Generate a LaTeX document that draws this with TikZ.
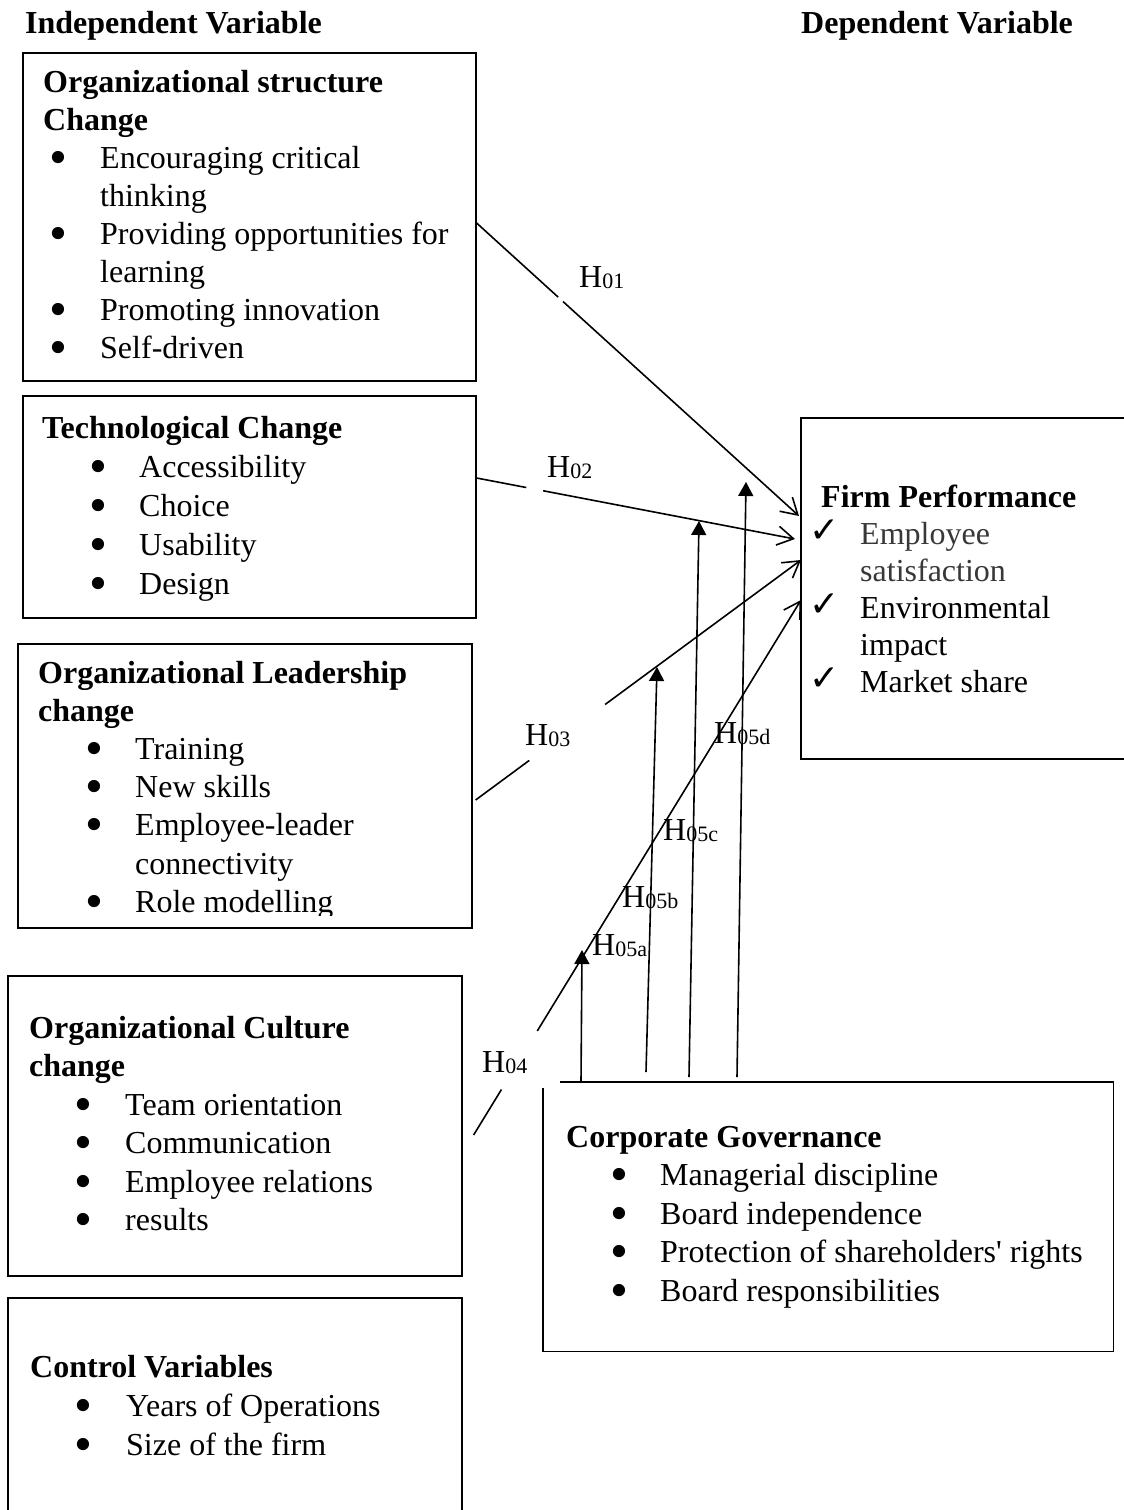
\documentclass[tikz,border=0pt]{standalone}
\usepackage{graphicx}
\usepackage{fontspec}
\setmainfont{Liberation Serif}
\newfontfamily\checkfont{DejaVu Sans}
\usetikzlibrary{arrows.meta,calc}

\newcommand{\bigbul}{\raisebox{-6pt}{\smash{\scalebox{1.6}{\textbullet}}}}
\newcommand{\bulitem}[3]{\makebox[0pt][l]{\hspace*{#1pt}\makebox[0pt]{\bigbul}}\hspace*{#2pt}#3}
\newcommand{\contline}[2]{\hspace*{#1pt}#2}
\newcommand{\chkitem}[3]{\makebox[0pt][l]{\hspace*{#1pt}\makebox[0pt]{\raisebox{1.5pt}{\smash{\checkfont\fontsize{36}{36}\selectfont ✓}}}}\hspace*{#2pt}#3}
\newcommand{\hyplab}[1]{H\raisebox{-1.5pt}{\fontsize{22}{22}\selectfont #1}}

\tikzset{
  box/.style={draw, line width=1.6pt, rectangle, anchor=north west, inner sep=0pt},
  txt/.style={anchor=base west, inner sep=0pt, font=\fontsize{32}{#1}\selectfont},
  hlab/.style={anchor=base west, inner sep=0pt, font=\fontsize{32}{32}\selectfont},
  conn/.style={line width=1.6pt},
  openarr/.style={conn, -{Straight Barb[length=16pt,width=19pt]}},
  modarr/.style={conn, -{Triangle[length=14pt,width=15pt]}}
}

\begin{document}
\begin{tikzpicture}[x=1pt,y=-1pt]
\path[fill=white,use as bounding box] (0,0) rectangle (1124,1510);

% headers
\node[txt=38,font=\fontsize{32}{38}\selectfont\bfseries] (hd1) at (25,33) {Independent Variable};
\node[txt=38,font=\fontsize{32}{38}\selectfont\bfseries] (hd2) at (801,33) {Dependent Variable};

% boxes
\node[box, minimum width=453pt, minimum height=328pt] (b1) at (22,52) {};
\node[box, minimum width=453pt, minimum height=222pt] (b2) at (22,395) {};
\node[box, minimum width=454pt, minimum height=284pt] (b3) at (17,643) {};
\node[box, minimum width=454pt, minimum height=300pt] (b4) at (7,975) {};
\node[box, minimum width=454pt, minimum height=240pt] (b5) at (7,1297) {};
\node[box, minimum width=340pt, minimum height=341pt] (fp) at (800,417) {};
\node[box, draw=none, minimum width=569pt, minimum height=268pt] (cg) at (543,1082) {};
\draw[line width=1.6pt] ($(cg.north west)+(17,0)$) -- (cg.north east) -- (cg.south east)
  -- (cg.south west) -- ($(cg.north west)+(0,6)$);

% box texts
\node[txt=38] (t1) at (43,92) {\begin{tabular}[t]{@{}l@{}}
\textbf{Organizational structure}\\
\textbf{Change}\\
\bulitem{15}{57}{Encouraging critical}\\
\contline{57}{thinking}\\
\bulitem{15}{57}{Providing opportunities for}\\
\contline{57}{learning}\\
\bulitem{15}{57}{Promoting innovation}\\
\bulitem{15}{57}{Self-driven}
\end{tabular}};

\node[txt=39] (t2) at (42,438) {\begin{tabular}[t]{@{}l@{}}
\textbf{Technological Change}\\
\bulitem{56}{97}{Accessibility}\\
\bulitem{56}{97}{Choice}\\
\bulitem{56}{97}{Usability}\\
\bulitem{56}{97}{Design}
\end{tabular}};

\begin{scope}
\clip (0,0) rectangle (1124,915);
\node[txt=38.2] (t3) at (38,683) {\begin{tabular}[t]{@{}l@{}}
\textbf{Organizational Leadership}\\
\textbf{change}\\
\bulitem{56}{97}{Training}\\
\bulitem{56}{97}{New skills}\\
\bulitem{56}{97}{Employee-leader}\\
\contline{97}{connectivity}\\
\bulitem{56}{97}{Role modelling}
\end{tabular}};
\end{scope}

\node[txt=38.5] (t4) at (29,1038) {\begin{tabular}[t]{@{}l@{}}
\textbf{Organizational Culture}\\
\textbf{change}\\
\bulitem{54}{96}{Team orientation}\\
\bulitem{54}{96}{Communication}\\
\bulitem{54}{96}{Employee relations}\\
\bulitem{54}{96}{results}
\end{tabular}};

\node[txt=39] (t5) at (30,1377) {\begin{tabular}[t]{@{}l@{}}
\textbf{Control Variables}\\
\bulitem{53}{96}{Years of Operations}\\
\bulitem{53}{96}{Size of the firm}
\end{tabular}};

\node[txt=38.5] (t6) at (566,1147) {\begin{tabular}[t]{@{}l@{}}
\textbf{Corporate Governance}\\
\bulitem{53}{94}{Managerial discipline}\\
\bulitem{53}{94}{Board independence}\\
\bulitem{53}{94}{Protection of shareholders\textquotesingle{} rights}\\
\bulitem{53}{94}{Board responsibilities}
\end{tabular}};

\node[txt=37] (t7) at (821,507) {\begin{tabular}[t]{@{}l@{}}
\textbf{Firm Performance}\\
\chkitem{3}{39}{\color{black!78}Employee}\\
\contline{39}{\color{black!78}satisfaction}\\
\chkitem{3}{39}{Environmental}\\
\contline{39}{impact}\\
\chkitem{3}{39}{Market share}
\end{tabular}};

% connector end points
\coordinate (s1) at ($(b1.north east)+(0,171)$);
\coordinate (s2) at ($(b2.north east)+(0,83)$);
\coordinate (s3) at ($(b3.north east)+(3,157)$);
\coordinate (s4) at ($(b4.north east)+(11,160)$);
\coordinate (e1) at ($(fp.north west)+(-1,99)$);
\coordinate (e2) at ($(fp.north west)+(-5,122)$);
\coordinate (e3) at ($(fp.north west)+(1,143)$);
\coordinate (e4) at ($(fp.north west)+(1,183)$);

% direct paths (with gaps)
\draw[conn] (s1) -- ($(s1)!0.253!(e1)$);
\draw[openarr] ($(s1)!0.268!(e1)$) -- (e1);
\draw[conn] (s2) -- ($(s2)!0.156!(e2)$);
\draw[openarr] ($(s2)!0.209!(e2)$) -- (e2);
\draw[conn] (s3) -- ($(s3)!0.165!(e3)$);
\draw[openarr] ($(s3)!0.398!(e3)$) -- (e3);
\draw[conn] (s4) -- ($(s4)!0.085!(e4)$);
\draw[openarr] ($(s4)!0.1945!(e4)$) -- (e4);

% moderating arrows
\coordinate (m5a) at (582,950);
\coordinate (m5b) at (657,667);
\coordinate (m5c) at (699,521);
\coordinate (m5d) at (746,482);
\draw[modarr] ($(cg.north west)+(38,0)$) -- (m5a);
\draw[modarr] ($(cg.north west)+(103,-10)$) -- (m5b);
\draw[modarr] ($(cg.north west)+(146,-5)$) -- (m5c);
\draw[modarr] ($(cg.north west)+(194,-5)$) -- (m5d);

% labels
\node[hlab] (h01) at (579,287) {\hyplab{01}};
\node[hlab] (h02) at (547,477) {\hyplab{02}};
\node[hlab] (h03) at (525,745) {\hyplab{03}};
\node[hlab] (h04) at (482,1072) {\hyplab{04}};
\node[hlab] (h05a) at (592,955) {\hyplab{05a}};
\node[hlab] (h05b) at (622,907) {\hyplab{05b}};
\node[hlab] (h05c) at (663,840) {\hyplab{05c}};
\node[hlab] (h05d) at (714,743) {\hyplab{05d}};
\end{tikzpicture}
\end{document}
